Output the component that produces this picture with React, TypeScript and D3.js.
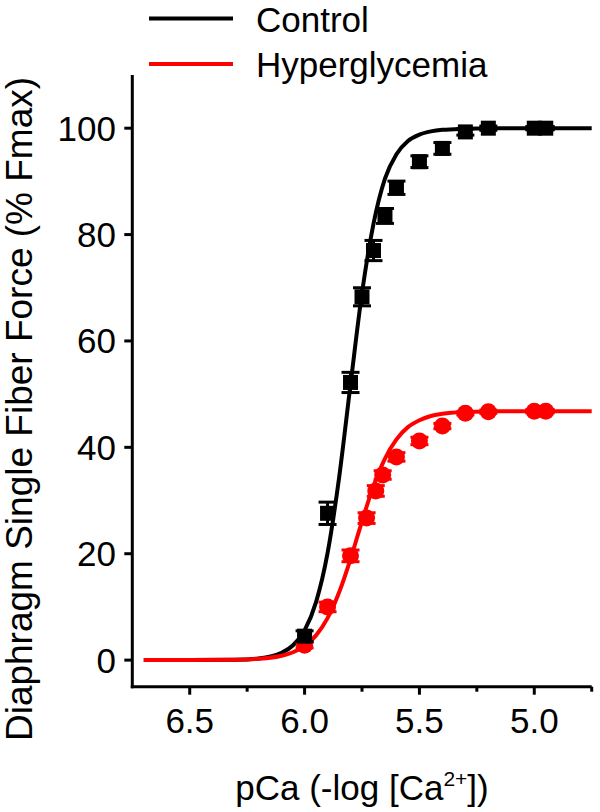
import React from "react";
import * as d3 from "d3";

// ---- data ----
const pCaControl = [6.0, 5.9, 5.8, 5.75, 5.7, 5.65, 5.6, 5.5, 5.4, 5.3, 5.2, 5.0, 4.95];
const forceControl = [4.5, 27.6, 52.2, 68.3, 77.0, 83.5, 88.8, 93.7, 96.2, 99.3, 100.0, 100.0, 100.0];
const semControl = [1.0, 2.1, 1.9, 1.7, 1.9, 1.4, 1.25, 1.1, 1.1, 0.6, 0.4, 0.3, 0.3];

const pCaHyper = [6.0, 5.9, 5.8, 5.73, 5.69, 5.66, 5.6, 5.5, 5.4, 5.3, 5.2, 5.0, 4.95];
const forceHyper = [2.8, 10.0, 19.6, 26.7, 31.8, 34.8, 38.2, 41.2, 44.0, 46.4, 46.7, 46.8, 46.8];
const semHyper = [0.5, 0.9, 1.1, 1.0, 1.0, 0.8, 0.8, 0.7, 0.5, 0.3, 0.3, 0.3, 0.3];

// fitted curves
const fitPCa = [6.7, 6.5, 6.3, 6.2, 6.1, 6.05, 6.0, 5.95, 5.9, 5.85, 5.8, 5.75, 5.7, 5.65, 5.6, 5.55, 5.5, 5.45, 5.4, 5.3, 5.2, 5.0, 4.75];
const fitControl = [0, 0.004, 0.08, 0.32, 1.37, 2.8, 5.6, 10.9, 20.1, 34.2, 51.8, 69.0, 82.0, 90.5, 95.1, 97.6, 98.8, 99.4, 99.7, 99.9, 100, 100, 100];
const fitHyper = [0, 0.006, 0.073, 0.245, 0.82, 1.48, 2.64, 4.65, 7.89, 12.7, 19.0, 26.1, 32.7, 37.9, 41.5, 43.8, 45.1, 45.9, 46.3, 46.65, 46.76, 46.8, 46.8];

const xMajorTicks = [6.5, 6.0, 5.5, 5.0];
const xMinorTicks = [6.25, 5.75, 5.25, 4.75];
const yTicks = [0, 20, 40, 60, 80, 100];

const seriesNames = ["Control", "Hyperglycemia"];
const seriesColors = ["#000000", "#ff0000"];

const FONT = "'Liberation Sans', Arial, Helvetica, sans-serif";

export default function App() {
  const W = 600;
  const H = 812;
  const x = d3.scaleLinear().domain([6.75, 4.75]).range([132.3, 591.7]);
  const y = d3.scaleLinear().domain([-5, 110]).range([686.7, 75]);

  const line = d3
    .line<[number, number]>()
    .x((d) => x(d[0]))
    .y((d) => y(d[1]))
    .curve(d3.curveMonotoneX);

  const ctrlPath = line(fitPCa.map((p, i) => [p, fitControl[i]] as [number, number])) || "";
  const hypPath = line(fitPCa.map((p, i) => [p, fitHyper[i]] as [number, number])) || "";

  const cap = 9;
  const sq = 15;

  const errBars = (px: number[], vals: number[], sem: number[], color: string) =>
    px.map((p, i) => {
      const cx = x(p);
      const y1 = y(vals[i] + sem[i]);
      const y2 = y(vals[i] - sem[i]);
      return (
        <g key={i} stroke={color} strokeWidth={3}>
          <line x1={cx} x2={cx} y1={y1} y2={y2} />
          <line x1={cx - cap} x2={cx + cap} y1={y1} y2={y1} />
          <line x1={cx - cap} x2={cx + cap} y1={y2} y2={y2} />
        </g>
      );
    });

  const x0 = x.range()[0];
  const yBase = y.range()[0];

  return (
    <svg width={W} height={H} style={{ position: "absolute", left: 0, top: 0 }} fontFamily={FONT}>
      <rect width={W} height={H} fill="#fff" />
      {/* legend */}
      <g>
        <line x1={149} x2={233} y1={18.5} y2={18.5} stroke={seriesColors[0]} strokeWidth={4} />
        <text x={256} y={31.5} fontSize={35} fill="#000">{seriesNames[0]}</text>
        <line x1={149} x2={233} y1={64} y2={64} stroke={seriesColors[1]} strokeWidth={4} />
        <text x={256} y={77.3} fontSize={35} fill="#000">{seriesNames[1]}</text>
      </g>

      {/* axes */}
      <g stroke="#000" strokeWidth={3} fill="none">
        <line x1={x0} x2={x0} y1={y.range()[1]} y2={yBase + 1.5} />
        <line x1={x0 - 1.5} x2={x.range()[1]} y1={yBase} y2={yBase} />
        {yTicks.map((t) => (
          <line key={"yt" + t} x1={x0 - 8} x2={x0} y1={y(t)} y2={y(t)} />
        ))}
        {xMajorTicks.map((t) => (
          <line key={"xt" + t} x1={x(t)} x2={x(t)} y1={yBase} y2={yBase + 8} />
        ))}
        {xMinorTicks.map((t) => (
          <line key={"xm" + t} x1={x(t)} x2={x(t)} y1={yBase} y2={yBase + 5} />
        ))}
      </g>
      {yTicks.map((t) => (
        <text key={"yl" + t} x={116} y={y(t) + 12.5} fontSize={35} textAnchor="end" fill="#000">
          {t}
        </text>
      ))}
      {xMajorTicks.map((t) => (
        <text key={"xl" + t} x={x(t)} y={733} fontSize={35} textAnchor="middle" fill="#000">
          {d3.format(".1f")(t)}
        </text>
      ))}
      <text x={362} y={800} fontSize={35} textAnchor="middle" fill="#000">
        pCa (-log [Ca
        <tspan fontSize={21} dy={-14}>2+</tspan>
        <tspan dy={14}>])</tspan>
      </text>
      <text
        transform={`translate(32, 409) rotate(-90)`}
        fontSize={37}
        textAnchor="middle"
        fill="#000"
      >
        Diaphragm Single Fiber Force (% Fmax)
      </text>

      {/* fitted curves */}
      <path d={ctrlPath} fill="none" stroke={seriesColors[0]} strokeWidth={4} />
      <path d={hypPath} fill="none" stroke={seriesColors[1]} strokeWidth={4} />

      {/* hyperglycemia points */}
      {errBars(pCaHyper, forceHyper, semHyper, seriesColors[1])}
      {pCaHyper.map((p, i) => (
        <circle key={"hc" + i} cx={x(p)} cy={y(forceHyper[i])} r={8.5} fill={seriesColors[1]} />
      ))}

      {/* control points */}
      {errBars(pCaControl, forceControl, semControl, seriesColors[0])}
      {pCaControl.map((p, i) => (
        <rect
          key={"cs" + i}
          x={x(p) - sq / 2}
          y={y(forceControl[i]) - sq / 2}
          width={sq}
          height={sq}
          fill={seriesColors[0]}
        />
      ))}
    </svg>
  );
}
